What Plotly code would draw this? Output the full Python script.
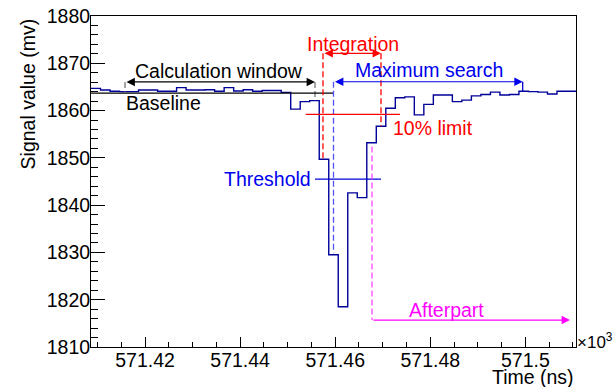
import plotly.graph_objects as go

# ---------------- data ----------------
bin_start = 571.40864          # x10^3 ns, left edge of first bin
bin_width = 0.002              # x10^3 ns
signal_mv = [1864.7, 1864.35, 1864.1, 1864.0, 1864.0, 1864.35, 1864.35, 1864.1, 1864.1, 1864.85,
             1864.35, 1864.35, 1864.4, 1864.1, 1864.85, 1864.15, 1864.4, 1864.1, 1864.25, 1864.25,
             1863.85, 1860.3, 1861.9, 1862.1, 1849.7, 1829.5, 1818.5, 1842.6, 1841.6, 1853.2,
             1856.7, 1860.5, 1862.7, 1862.9, 1859.1, 1861.3, 1863.3, 1863.3, 1861.9, 1862.2,
             1863.1, 1863.4, 1863.9, 1863.3, 1863.4, 1864.1, 1864.0, 1863.9, 1863.5, 1864.1, 1864.1]

x_tickvals = [571.42, 571.44, 571.46, 571.48, 571.5]
x_ticktext = ["571.42", "571.44", "571.46", "571.48", "571.5"]
y_tickvals = [1810, 1820, 1830, 1840, 1850, 1860, 1870, 1880]

# analysis markers (x in 10^3 ns, y in mV)
calc_window = [571.41579, 571.45575]
calc_window_y = 1866.05
calc_window_drop = [1864.0, 1862.2]
baseline_x = [571.40864, 571.45975]
baseline_y = 1863.7
integration = [571.45743, 571.46963]
integration_y = 1872.1
integration_drop = [1849.7, 1856.7]
max_search = [571.45964, 571.49943]
max_search_y = 1866.1
max_search_drop = [1829.8, 1864.1]
threshold_x = [571.45575, 571.46963]
threshold_y = 1845.5
limit10_x = [571.45379, 571.47361]
limit10_y = 1859.2
afterpart = [571.46774, 571.50938]
afterpart_y = 1815.7
afterpart_top = 1852.4

# ---------------- figure ----------------
n = len(signal_mv)
edges = [bin_start + bin_width * k for k in range(n + 1)]
yvals = signal_mv + [signal_mv[-1]]

FONT = "Liberation Sans, Arial, Helvetica, sans-serif"
FS = 19.5

fig = go.Figure()
fig.add_trace(go.Scatter(x=edges, y=yvals, mode="lines", line=dict(shape="hv", color="#000099", width=1.4),
                         hoverinfo="skip", showlegend=False))

shapes = []
def hline(x0, x1, y, color, width=1.3, dash=None):
    d = dict(type="line", xref="x", yref="y", x0=x0, x1=x1, y0=y, y1=y,
             line=dict(color=color, width=width))
    if dash:
        d["line"]["dash"] = dash
    shapes.append(d)

def vline(x, y0, y1, color, width=1.3, dash="6px,3px"):
    shapes.append(dict(type="line", xref="x", yref="y", x0=x, x1=x, y0=y0, y1=y1,
                       line=dict(color=color, width=width, dash=dash)))

vline(calc_window[0], calc_window_y, calc_window_drop[0], "#777777")
vline(calc_window[1], calc_window_y, calc_window_drop[1], "#777777")
hline(baseline_x[0], baseline_x[1], baseline_y, "black")
vline(integration[0], integration_y, integration_drop[0], "#ff0000")
vline(integration[1], integration_y, integration_drop[1], "#ff0000")
vline(max_search[0], max_search_y, max_search_drop[0], "#5050ff")
vline(max_search[1], max_search_y, max_search_drop[1], "#0000cc", dash="solid")
hline(threshold_x[0], threshold_x[1], threshold_y, "#0000dd")
hline(limit10_x[0], limit10_x[1], limit10_y, "#ff0000")
vline(afterpart[0], afterpart_top, afterpart_y, "#ff44ff")

annotations = []
def arrow(xa, xb, y, color, both=True):
    annotations.append(dict(x=xb, y=y, ax=xa, ay=y, xref="x", yref="y", axref="x", ayref="y",
                            text="", showarrow=True, arrowhead=2, arrowsize=1.4, arrowwidth=1.2,
                            arrowcolor=color, arrowside="end+start" if both else "end",
                            standoff=0, startstandoff=0))

def label(x, y, text, color, xanchor="center"):
    annotations.append(dict(x=x, y=y, xref="x", yref="y", text=text, showarrow=False,
                            font=dict(family=FONT, size=FS, color=color),
                            xanchor=xanchor, yanchor="middle"))

arrow(calc_window[0], calc_window[1], calc_window_y, "black")
arrow(integration[0], integration[1], integration_y, "#ff0000")
arrow(max_search[0], max_search[1], max_search_y, "#0000ee")
arrow(afterpart[0], afterpart[1], afterpart_y, "#ff00ff", both=False)

label(571.43556, 1868.3, "Calculation window", "black")
label(571.41560, 1861.6, "Baseline", "black", xanchor="left")
label(571.46374, 1874.1, "Integration", "#ff0000")
label(571.47977, 1868.5, "Maximum search", "#0000ee")
label(571.48050, 1856.4, "10% limit", "#ff0000")
label(571.45530, 1845.5, "Threshold", "#0000ee", xanchor="right")
label(571.48343, 1817.9, "Afterpart", "#ff00ff")

annotations.append(dict(xref="paper", yref="paper", x=1.0, y=-0.092, text="Time (ns)", showarrow=False,
                        xanchor="right", yanchor="middle", font=dict(family=FONT, size=FS, color="black")))
annotations.append(dict(xref="paper", yref="paper", x=1.0, y=0.018, text="×10<sup>3</sup>", showarrow=False,
                        xanchor="left", yanchor="middle", borderpad=0,
                        font=dict(family=FONT, size=17, color="black")))
annotations.append(dict(xref="paper", yref="paper", x=-0.13, y=1.0, text="Signal value (mv)", showarrow=False,
                        textangle=-90, xanchor="center", yanchor="top",
                        font=dict(family=FONT, size=FS, color="black")))

fig.update_layout(
    width=616, height=387,
    margin=dict(l=91, r=40, t=16, b=40, autoexpand=False),
    paper_bgcolor="white", plot_bgcolor="white",
    font=dict(family=FONT, size=FS, color="black"),
    shapes=shapes, annotations=annotations, showlegend=False,
    xaxis=dict(range=[edges[0], edges[-1]], tickmode="array", tickvals=x_tickvals, ticktext=x_ticktext,
               ticks="inside", ticklen=10, tickwidth=1, tickcolor="black", ticklabelstandoff=-4,
               minor=dict(ticks="inside", ticklen=5, dtick=0.005, tick0=571.42, tickcolor="black"),
               showline=True, linecolor="black", linewidth=1, mirror=True, automargin=False,
               showgrid=False, zeroline=False, tickfont=dict(size=FS)),
    yaxis=dict(range=[1810, 1880], tickmode="array", tickvals=y_tickvals,
               ticks="inside", ticklen=14, tickwidth=1, tickcolor="black", ticklabelstandoff=-4,
               minor=dict(ticks="inside", ticklen=7, dtick=2, tick0=1810, tickcolor="black"),
               showline=True, linecolor="black", linewidth=1, mirror=True, automargin=False,
               showgrid=False, zeroline=False, tickfont=dict(size=FS)),
)

fig.write_html("out.html", config={"displayModeBar": False},
               post_script="document.body.style.margin='0';document.body.style.padding='0';")
